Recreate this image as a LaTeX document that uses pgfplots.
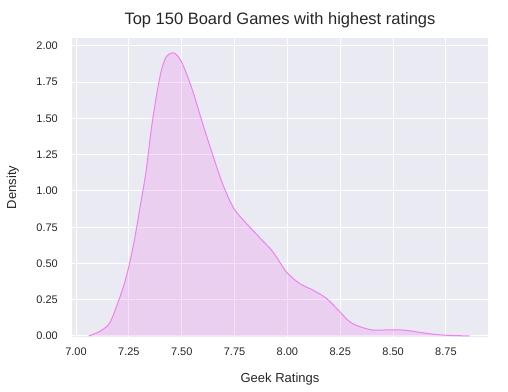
\documentclass[border=0pt]{standalone}
\usepackage{fontspec}
\setmainfont{Liberation Sans}
\usepackage{pgfplots}
\pgfplotsset{compat=1.18}
\definecolor{bgc}{RGB}{234,234,242}
\definecolor{viol}{RGB}{238,130,238}
\definecolor{txt}{RGB}{38,38,38}
\begin{document}
\begin{tikzpicture}
\begin{axis}[
  name=ax,
  scale only axis,
  width=416bp, height=299bp,
  xmin=6.981, xmax=8.949, ymin=-0.007, ymax=2.055,
  xtick={7,7.25,7.5,7.75,8,8.25,8.5,8.75},
  ytick={0,0.25,0.5,0.75,1,1.25,1.5,1.75,2},
  /pgf/number format/.cd, fixed, fixed zerofill, precision=2, assume math mode=true,
  /pgfplots/.cd,
  axis background/.style={fill=bgc},
  axis line style={draw=none},
  major tick length=0pt,
  grid=major,
  major grid style={white, line width=1bp},
  ticklabel style={font=\fontsize{11bp}{13bp}\selectfont, text=txt, inner sep=0pt},
  xticklabel style={anchor=north, yshift=-11bp},
  yticklabel style={anchor=east, xshift=-14bp},
  title={Top 150 Board Games with highest ratings},
  title style={at={(axis description cs:0.5,1.0268)}, anchor=base, yshift=0pt, font=\fontsize{16.5bp}{19bp}\selectfont, text=txt, inner sep=0pt},
  xlabel={Geek Ratings},
  xlabel style={at={(axis description cs:0.5,-0.1538)}, anchor=base, font=\fontsize{13bp}{15bp}\selectfont, text=txt, inner sep=0pt},
  ylabel={Density},
  ylabel style={at={(axis description cs:-0.1346,0.5)}, anchor=base, rotate=0, font=\fontsize{13bp}{15bp}\selectfont, text=txt, inner sep=0pt},
]
\addplot[draw=none, fill=viol, fill opacity=0.25, smooth] coordinates {
(7.06,0) (7.11,0.03) (7.158,0.087) (7.197,0.225) (7.229,0.362) (7.253,0.499)
(7.276,0.66) (7.303,0.888) (7.332,1.14) (7.355,1.415) (7.379,1.643) (7.403,1.827)
(7.426,1.923) (7.454,1.953) (7.475,1.94) (7.505,1.873) (7.552,1.69) (7.60,1.46)
(7.648,1.243) (7.688,1.071) (7.727,0.934) (7.759,0.854) (7.822,0.751) (7.869,0.678)
(7.932,0.579) (7.995,0.442) (8.058,0.362) (8.121,0.316) (8.185,0.259) (8.248,0.167)
(8.295,0.098) (8.343,0.064) (8.406,0.041) (8.5,0.043) (8.563,0.039) (8.626,0.025)
(8.69,0.012) (8.752,0.005) (8.862,0)
} \closedcycle;
\addplot[draw=viol, line width=1bp, smooth] coordinates {
(7.06,0) (7.11,0.03) (7.158,0.087) (7.197,0.225) (7.229,0.362) (7.253,0.499)
(7.276,0.66) (7.303,0.888) (7.332,1.14) (7.355,1.415) (7.379,1.643) (7.403,1.827)
(7.426,1.923) (7.454,1.953) (7.475,1.94) (7.505,1.873) (7.552,1.69) (7.60,1.46)
(7.648,1.243) (7.688,1.071) (7.727,0.934) (7.759,0.854) (7.822,0.751) (7.869,0.678)
(7.932,0.579) (7.995,0.442) (8.058,0.362) (8.121,0.316) (8.185,0.259) (8.248,0.167)
(8.295,0.098) (8.343,0.064) (8.406,0.041) (8.5,0.043) (8.563,0.039) (8.626,0.025)
(8.69,0.012) (8.752,0.005) (8.862,0)
};
\end{axis}
\pgfresetboundingbox
\path[use as bounding box] ([shift={(-72bp,-55bp)}]ax.south west) rectangle ([shift={(20bp,38bp)}]ax.north east);
\end{tikzpicture}
\end{document}
